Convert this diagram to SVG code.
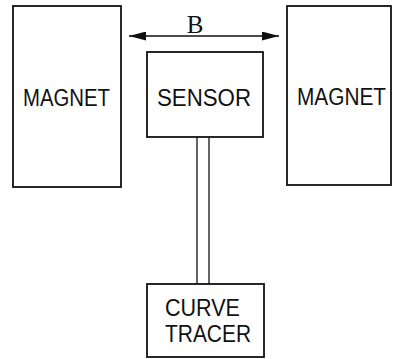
<svg xmlns="http://www.w3.org/2000/svg" width="395" height="359" viewBox="0 0 395 359">
  <defs>
    <style>
      .box { fill: #fff; stroke: #111; stroke-width: 1.8; }
      .wire { fill: none; stroke: #111; stroke-width: 1.3; }
      .lbl { font-family: "Liberation Sans", Arial, sans-serif; font-size: 21px; fill: #111; }
      .sym { font-family: "Liberation Serif", "Times New Roman", serif; font-size: 25px; fill: #111; }
      .field { stroke: #111; stroke-width: 1.3; }
    </style>
    <marker id="head" viewBox="0 0 17 9" refX="17" refY="4.5" markerWidth="17" markerHeight="9" markerUnits="userSpaceOnUse" orient="auto-start-reverse">
      <path d="M0,0 L17,4.5 L0,9 Z" fill="#111"/>
    </marker>
  </defs>
  <rect width="395" height="359" fill="#fff"/>

  <!-- connectors: field arrow and sensor cable -->
  <g id="connectors">
    <line class="field" x1="129" y1="36" x2="279" y2="36" marker-start="url(#head)" marker-end="url(#head)"/>
    <line class="wire" x1="197" y1="137" x2="197" y2="284"/>
    <line class="wire" x1="209" y1="137" x2="209" y2="284"/>
    <text class="sym" x="195" y="33" text-anchor="middle">B</text>
  </g>

  <!-- labels use a slightly tall, narrow lettering: scaled vertically -->
  <g id="magnet-left">
    <rect class="box" x="13" y="6" width="108" height="181"/>
    <text class="lbl" transform="translate(23,106) scale(1,1.15)" textLength="87" lengthAdjust="spacingAndGlyphs">MAGNET</text>
  </g>

  <g id="sensor">
    <rect class="box" x="147" y="52" width="116" height="85"/>
    <text class="lbl" transform="translate(157,106) scale(1,1.15)" textLength="94" lengthAdjust="spacingAndGlyphs">SENSOR</text>
  </g>

  <g id="magnet-right">
    <rect class="box" x="287" y="6" width="104" height="179"/>
    <text class="lbl" transform="translate(297,105) scale(1,1.15)" textLength="89" lengthAdjust="spacingAndGlyphs">MAGNET</text>
  </g>

  <g id="curve-tracer">
    <rect class="box" x="147" y="284" width="117" height="73"/>
    <text class="lbl" transform="translate(165,316) scale(1,1.15)" textLength="75" lengthAdjust="spacingAndGlyphs">CURVE</text>
    <text class="lbl" transform="translate(165,342) scale(1,1.15)" textLength="86" lengthAdjust="spacingAndGlyphs">TRACER</text>
  </g>
</svg>
